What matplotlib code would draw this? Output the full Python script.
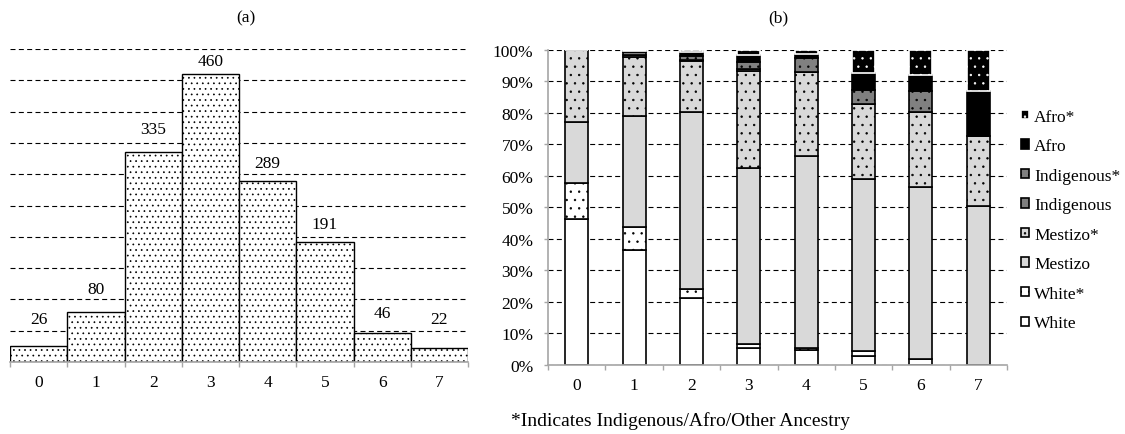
import matplotlib
matplotlib.use("Agg")
import matplotlib.pyplot as plt
import numpy as np

plt.rcParams['font.family'] = ['Liberation Serif', 'DejaVu Serif']
plt.rcParams['font.size'] = 12.5
plt.rcParams['hatch.linewidth'] = 0.5

categories = ['0', '1', '2', '3', '4', '5', '6', '7']
counts = [26, 80, 335, 460, 289, 191, 46, 22]

white      = [46.3, 36.4, 21.1, 5.3, 4.8, 2.9, 1.8, 0.0]
white_s    = [11.4, 7.4, 3.0, 1.3, 0.4, 1.5, 0.0, 0.0]
mestizo    = [19.3, 35.2, 56.2, 55.7, 61.1, 54.6, 54.7, 50.3]
mestizo_s  = [23.0, 18.6, 16.2, 30.9, 26.7, 23.8, 23.8, 22.2]
indig      = [0.0, 0.8, 0.3, 0.7, 0.0, 0.0, 0.0, 0.0]
indig_s    = [0.0, 0.8, 1.3, 2.3, 4.3, 4.5, 6.7, 0.0]
afro       = [0.0, 0.5, 1.3, 2.1, 1.2, 5.3, 5.0, 14.3]
afro_s     = [0.0, 0.3, 0.6, 1.7, 1.5, 7.4, 8.0, 13.2]

series_names = ['White', 'White*', 'Mestizo', 'Mestizo*', 'Indigenous', 'Indigenous*', 'Afro', 'Afro*']
series_vals = [white, white_s, mestizo, mestizo_s, indig, indig_s, afro, afro_s]

# styling
fills = ['white', 'white', '#d9d9d9', '#d9d9d9', '#808080', '#808080', 'black', 'black']
edges = ['black', 'black', 'black', 'black', 'black', 'black', 'black', 'white']
hatches = [None, '..', None, '..', None, '..', None, '..']
label_offsets_px = [27, 23, 23, 13, 18, 18, 20, 29]

W, H = 1125, 435
fig = plt.figure(figsize=(W / 100, H / 100), dpi=100)

axis_gray = '#a6a6a6'
dash = (0, (4.5, 3))

# ---- (a) ----
ax1 = fig.add_axes([10 / W, (H - 363) / H, 458 / W, 313 / H])
x = np.arange(len(categories))
bars = ax1.bar(x, counts, width=1.0, color='white', edgecolor='black', hatch='...', linewidth=1.0, zorder=2)
for xi, c, off in zip(x, counts, label_offsets_px):
    ax1.annotate(str(c), (xi, c), xytext=(0, off * 0.72), textcoords='offset points',
                 ha='center', va='center', fontsize=12.5)
ax1.set_xlim(-0.5, 7.5)
ax1.set_ylim(0, 500)
ax1.set_yticks(np.arange(50, 501, 50))
ax1.yaxis.grid(True, color='black', linestyle=dash, linewidth=0.8, zorder=0)
ax1.set_axisbelow(True)
ax1.tick_params(axis='y', left=False, labelleft=False)
ax1.set_xticks(x)
ax1.set_xticklabels(categories)
ax1.set_xticks(np.arange(-0.5, 8.0, 1.0), minor=True)
ax1.tick_params(axis='x', which='major', length=0, pad=8.5)
ax1.tick_params(axis='x', which='minor', length=3.6, color=axis_gray, width=1)
for s in ['left', 'top', 'right']:
    ax1.spines[s].set_visible(False)
ax1.spines['bottom'].set_color(axis_gray)
ax1.spines['bottom'].set_linewidth(1.2)

# ---- (b) ----
ax2 = fig.add_axes([548 / W, (H - 365.7) / H, 459 / W, 315 / H])
bottom = np.zeros(len(categories))
handles = []
for name, vals, fc, ec, ht in zip(series_names, series_vals, fills, edges, hatches):
    b = ax2.bar(x, vals, width=0.4, bottom=bottom, color=fc, edgecolor=ec, hatch=ht,
                linewidth=1.2, label=name, zorder=2)
    handles.append(b)
    bottom = bottom + np.array(vals)
ax2.set_xlim(-0.5, 7.5)
ax2.set_ylim(0, 100)
yt = list(range(0, 101, 10))
ax2.set_yticks(yt)
ax2.set_yticklabels([f'{v}%' for v in yt])
ax2.yaxis.grid(True, color='black', linestyle=dash, linewidth=0.8, zorder=0)
ax2.set_axisbelow(True)
ax2.tick_params(axis='y', length=3, color=axis_gray, width=1, pad=7.5)
ax2.set_xticks(x)
ax2.set_xticklabels(categories)
ax2.set_xticks(np.arange(-0.5, 8.0, 1.0), minor=True)
ax2.tick_params(axis='x', which='major', length=0, pad=8.5)
ax2.tick_params(axis='x', which='minor', length=3.6, color=axis_gray, width=1)
for s in ['top', 'right']:
    ax2.spines[s].set_visible(False)
for s in ['left', 'bottom']:
    ax2.spines[s].set_color(axis_gray)
    ax2.spines[s].set_linewidth(1.2)

leg = ax2.legend(handles[::-1], series_names[::-1], loc='center left',
                 bbox_to_anchor=(1021 / W, 1 - 221 / H), bbox_transform=fig.transFigure,
                 frameon=False, handlelength=0.45, handleheight=0.45, handletextpad=0.3,
                 labelspacing=0.78, borderpad=0, borderaxespad=0, fontsize=12.5)

fig.text(246 / W, 1 - 18 / H, '(a)', ha='center', va='center', fontsize=12.5)
fig.text(778 / W, 1 - 18 / H, '(b)', ha='center', va='center', fontsize=12.5)
fig.text(681 / W, 1 - 426 / H, '*Indicates Indigenous/Afro/Other Ancestry', ha='center', va='baseline', fontsize=14)

fig.savefig('out.png', dpi=100)
